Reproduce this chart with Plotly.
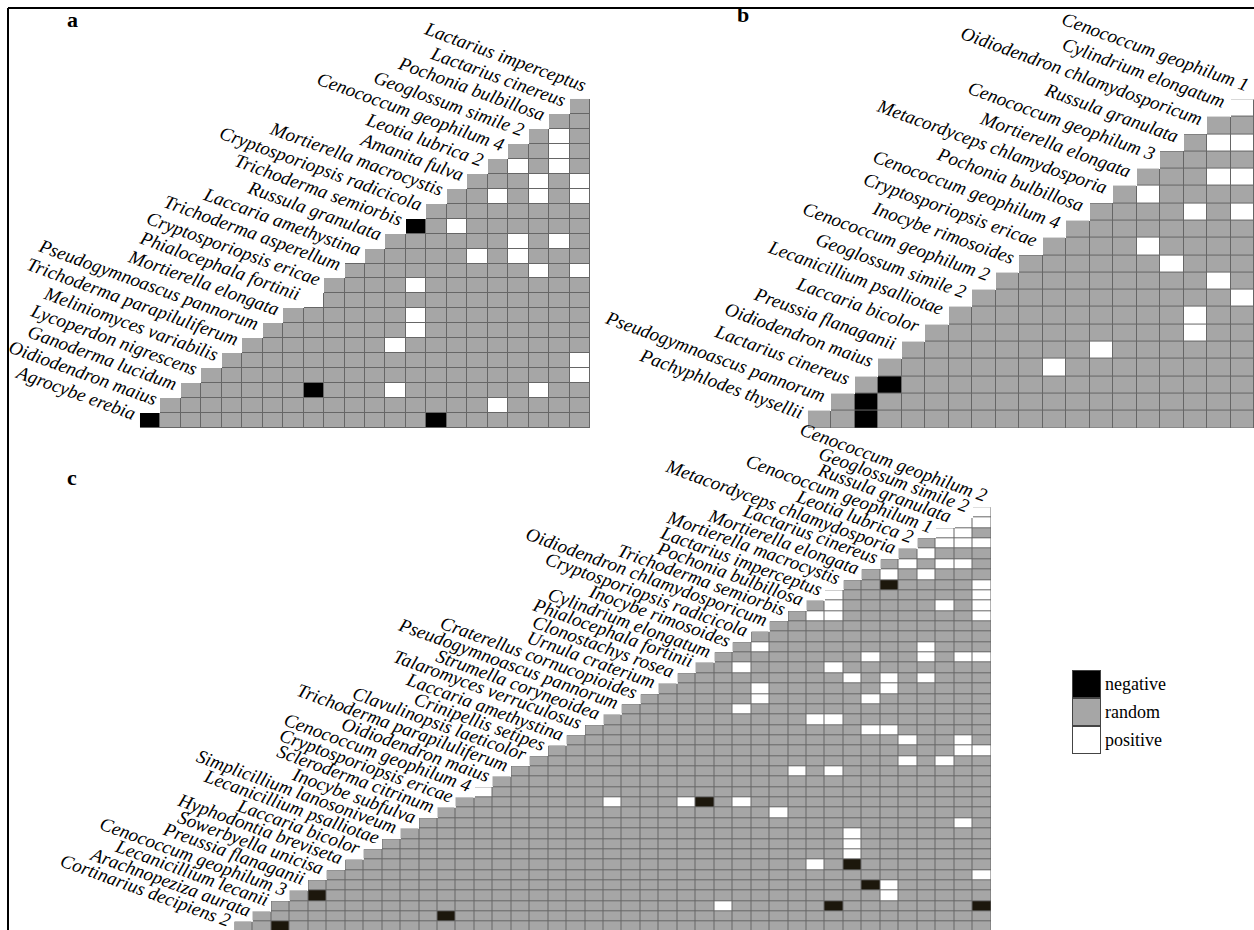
import plotly.graph_objects as go

# Species in each triangle, listed from the bottom row up to the top label.
species_a = [
    "Agrocybe erebia", "Oidiodendron maius", "Ganoderma lucidum", "Lycoperdon nigrescens",
    "Meliniomyces variabilis", "Trichoderma parapiluliferum", "Pseudogymnoascus pannorum",
    "Mortierella elongata", "Phialocephala fortinii", "Cryptosporiopsis ericae",
    "Trichoderma asperellum", "Laccaria amethystina", "Russula granulata",
    "Trichoderma semiorbis", "Cryptosporiopsis radicicola", "Mortierella macrocystis",
    "Amanita fulva", "Leotia lubrica 2", "Cenococcum geophilum 4", "Geoglossum simile 2",
    "Pochonia bulbillosa", "Lactarius cinereus", "Lactarius imperceptus",
]
species_b = [
    "Pachyphlodes thysellii", "Pseudogymnoascus pannorum", "Lactarius cinereus",
    "Oidiodendron maius", "Preussia flanaganii", "Laccaria bicolor", "Lecanicillium psalliotae",
    "Geoglossum simile 2", "Cenococcum geophilum 2", "Inocybe rimosoides",
    "Cryptosporiopsis ericae", "Cenococcum geophilum 4", "Pochonia bulbillosa",
    "Metacordyceps chlamydosporia", "Mortierella elongata", "Cenococcum geophilum 3",
    "Russula granulata", "Oidiodendron chlamydosporicum", "Cylindrium elongatum",
    "Cenococcum geophilum 1",
]
species_c = [
    "Cortinarius decipiens 2", "Arachnopeziza aurata", "Lecanicillium lecanii",
    "Cenococcum geophilum 3", "Preussia flanaganii", "Sowerbyella unicisa",
    "Hyphodontia breviseta", "Laccaria bicolor", "Lecanicillium psalliotae",
    "Simplicillium lanosoniveum", "Inocybe subfulva", "Scleroderma citrinum",
    "Cryptosporiopsis ericae", "Cenococcum geophilum 4", "Oidiodendron maius",
    "Trichoderma parapiluliferum", "Clavulinopsis laeticolor", "Crinipellis setipes",
    "Laccaria amethystina", "Talaromyces verruculosus", "Strumella coryneoidea",
    "Pseudogymnoascus pannorum", "Craterellus cornucopioides", "Urnula craterium",
    "Clonostachys rosea", "Phialocephala fortinii", "Cylindrium elongatum",
    "Inocybe rimosoides", "Cryptosporiopsis radicicola", "Oidiodendron chlamydosporicum",
    "Trichoderma semiorbis", "Pochonia bulbillosa", "Lactarius imperceptus",
    "Mortierella macrocystis", "Mortierella elongata", "Lactarius cinereus",
    "Metacordyceps chlamydosporia", "Leotia lubrica 2", "Cenococcum geophilum 1",
    "Russula granulata", "Geoglossum simile 2", "Cenococcum geophilum 2",
]

# Non-random pairs as (row, column) cells of each triangle; every other cell is random.
negative_a = [(0, 0), (0, 14), (2, 8), (13, 13)]
positive_a = [
    (1, 17), (2, 12), (2, 19), (3, 21), (4, 21), (5, 12), (6, 13), (7, 13), (8, 8),
    (9, 13), (10, 19), (10, 21), (11, 16), (11, 18), (12, 18), (12, 20), (13, 15),
    (15, 17), (15, 19), (15, 21), (16, 19), (16, 21), (17, 18), (17, 20), (18, 20),
    (19, 20),
]
negative_b = [(0, 2), (1, 2), (2, 3)]
positive_b = [
    (3, 10), (4, 12), (5, 16), (6, 16), (7, 18), (8, 17), (9, 15), (10, 14), (12, 16),
    (12, 18), (13, 14), (14, 17), (14, 18), (16, 17), (16, 18), (18, 18),
]
negative_c = [(0, 2), (1, 11), (2, 32), (2, 40), (3, 4), (4, 34), (6, 33), (12, 25), (33, 35)]
positive_c = [
    (2, 26), (3, 35), (4, 35), (5, 40), (6, 31), (7, 33), (8, 33), (9, 33), (10, 39),
    (11, 29), (12, 20), (12, 24), (12, 27), (13, 13), (15, 30), (15, 32), (16, 36),
    (16, 38), (17, 39), (17, 40), (18, 36), (18, 39), (19, 34), (19, 35), (20, 31),
    (20, 32), (21, 27), (22, 28), (22, 34), (23, 28), (23, 35), (24, 33), (24, 35),
    (24, 37), (25, 27), (25, 32), (26, 34), (26, 37), (26, 39), (26, 40), (27, 28),
    (27, 37), (30, 31), (30, 32), (30, 40), (31, 32), (31, 38), (31, 40), (32, 32),
    (32, 40), (33, 40), (34, 35), (34, 37), (35, 36), (35, 38), (35, 39), (36, 37),
    (37, 38), (37, 39), (37, 40), (38, 38), (38, 39), (39, 39), (39, 40), (40, 40),
]

legend_labels = ["negative", "random", "positive"]
legend_codes = [0, 1, 2]
panel_letters = ["a", "b", "c"]

FIG_W, FIG_H = 1254, 930
GRAY = "#a6a6a6"
LINE = "#666666"
WHITE = "#ffffff"
LABEL_FONT = "Liberation Serif"
LABEL_SIZE = 19
LABEL_ANGLE = 20


def cell_matrix(n, neg, pos):
    z = [[(1 if c >= r else None) for c in range(n)] for r in range(n)]
    for r, c in neg:
        z[r][c] = 0
    for r, c in pos:
        z[r][c] = 2
    return z


def three_step_scale(neg_color):
    return [[0, neg_color], [1 / 3, neg_color], [1 / 3, GRAY],
            [2 / 3, GRAY], [2 / 3, WHITE], [1, WHITE]]


fig = go.Figure()
layout_axes = {}
annotations = []

panels = [
    # species, negatives, positives, grid left/right/bottom/top in px, colour of negatives
    (species_a, negative_a, positive_a, 140.0, 590.0, 428.0, 99.0, "#000000"),
    (species_b, negative_b, positive_b, 808.0, 1254.0, 428.0, 99.5, "#000000"),
    (species_c, negative_c, positive_c, 234.5, 991.0, 932.1, 507.3, "#1c170c"),
]

for k, (species, neg, pos, left, right, bottom, top, neg_color) in enumerate(panels, start=1):
    n = len(species) - 1
    cw = (right - left) / n
    ch = (bottom - top) / n
    dom_left = left - cw
    dom_top = top - ch
    dom_bottom = min(bottom, FIG_H)
    y_lo = -0.5 + (bottom - dom_bottom) / ch
    xa = "x" if k == 1 else f"x{k}"
    ya = "y" if k == 1 else f"y{k}"
    layout_axes["xaxis" if k == 1 else f"xaxis{k}"] = dict(
        domain=[dom_left / FIG_W, right / FIG_W], range=[-1.5, n - 0.5],
        visible=False, fixedrange=True, anchor=ya)
    layout_axes["yaxis" if k == 1 else f"yaxis{k}"] = dict(
        domain=[1 - dom_bottom / FIG_H, 1 - dom_top / FIG_H], range=[y_lo, n + 0.5],
        visible=False, fixedrange=True, anchor=xa)

    cols = list(range(n))
    rows = list(range(n))
    frame = [[(1 if c >= r else None) for c in cols] for r in rows]
    fig.add_trace(go.Heatmap(
        z=frame, x=cols, y=rows, zmin=0, zmax=1,
        colorscale=[[0, LINE], [1, LINE]], showscale=False, hoverinfo="skip",
        xaxis=xa, yaxis=ya))
    fig.add_trace(go.Heatmap(
        z=cell_matrix(n, neg, pos), x=cols, y=rows, zmin=0, zmax=2,
        colorscale=three_step_scale(neg_color), xgap=1, ygap=1,
        showscale=False, hoverinfo="skip", xaxis=xa, yaxis=ya))

    for i, name in enumerate(species):
        annotations.append(dict(
            x=i - 1, y=i, xref=xa, yref=ya, text=f"<i>{name}</i>", showarrow=False,
            xanchor="right", yanchor="bottom", textangle=LABEL_ANGLE,
            xshift=11.8, yshift=-6.4,
            font=dict(family=LABEL_FONT, size=LABEL_SIZE, color="black")))

# Key: three stacked swatches drawn with the same colour scale
layout_axes["xaxis4"] = dict(domain=[1072 / FIG_W, 1101 / FIG_W], range=[-0.5, 0.5],
                             visible=False, fixedrange=True, anchor="y4")
layout_axes["yaxis4"] = dict(domain=[1 - 754 / FIG_H, 1 - 670 / FIG_H], range=[-0.5, 2.5],
                             visible=False, fixedrange=True, anchor="x4")
key_rows = list(range(len(legend_codes)))
fig.add_trace(go.Heatmap(
    z=[[1] for _ in key_rows], x=[0], y=key_rows, zmin=0, zmax=1,
    colorscale=[[0, "#444444"], [1, "#444444"]], showscale=False, hoverinfo="skip",
    xaxis="x4", yaxis="y4"))
fig.add_trace(go.Heatmap(
    z=[[code] for code in reversed(legend_codes)], x=[0], y=key_rows, zmin=0, zmax=2,
    colorscale=three_step_scale("#000000"), xgap=2, ygap=2, showscale=False,
    hoverinfo="skip", xaxis="x4", yaxis="y4"))
for j, label in enumerate(legend_labels):
    annotations.append(dict(
        x=0.5, y=len(legend_labels) - 1 - j, xref="x4", yref="y4", text=label,
        showarrow=False, xanchor="left", yanchor="middle", xshift=2,
        font=dict(family=LABEL_FONT, size=18, color="black")))

letter_pos = [(72, 20), (743, 15), (72, 477)]
for letter, (lx, ly) in zip(panel_letters, letter_pos):
    annotations.append(dict(
        x=lx / FIG_W, y=1 - ly / FIG_H, xref="paper", yref="paper", text=f"<b>{letter}</b>",
        showarrow=False, xanchor="center", yanchor="middle",
        font=dict(family=LABEL_FONT, size=22, color="black")))

shapes = [
    dict(type="line", xref="paper", yref="paper", x0=8 / FIG_W, x1=1, y0=1 - 8 / FIG_H,
         y1=1 - 8 / FIG_H, line=dict(color="black", width=2)),
    dict(type="line", xref="paper", yref="paper", x0=8 / FIG_W, x1=8 / FIG_W, y0=0,
         y1=1 - 8 / FIG_H, line=dict(color="black", width=2)),
]

fig.update_layout(
    width=FIG_W, height=FIG_H, margin=dict(l=0, r=0, t=0, b=0),
    paper_bgcolor="white", plot_bgcolor="rgba(0,0,0,0)", showlegend=False,
    annotations=annotations, shapes=shapes, **layout_axes)

fig.write_html("out.html", config={"displayModeBar": False})
